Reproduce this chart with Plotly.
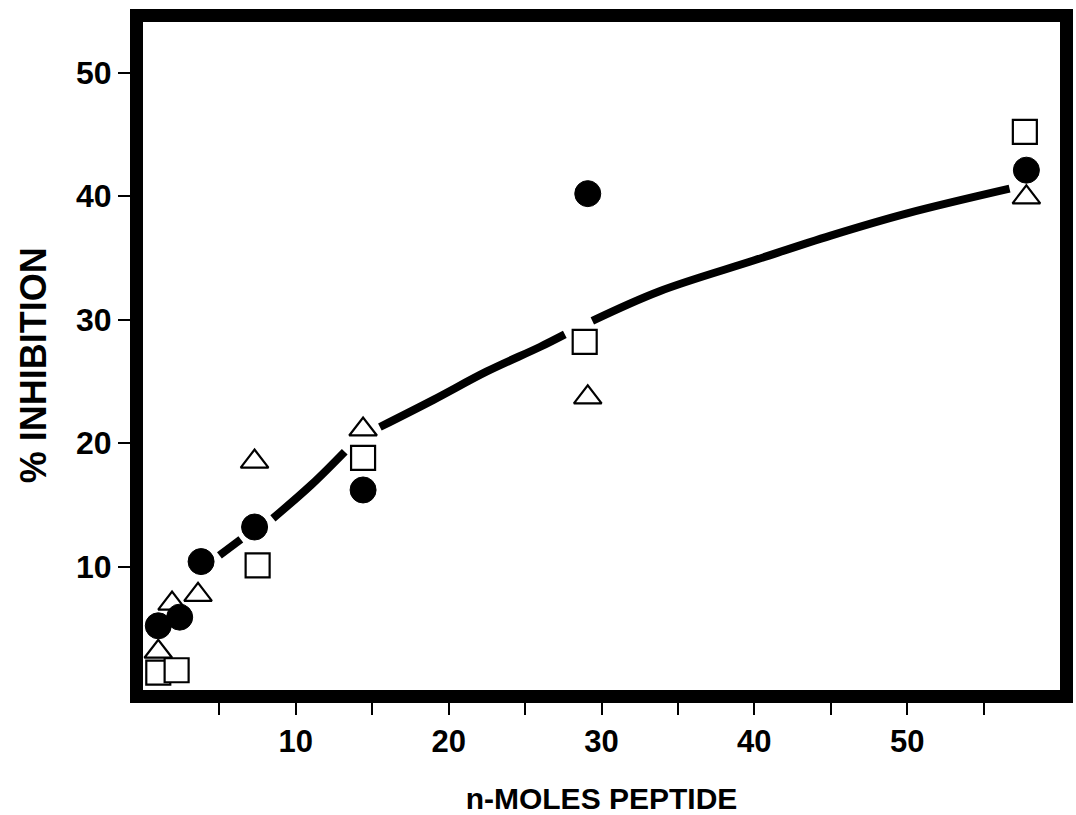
import plotly.graph_objects as go

# ---- data ----
circle_x = [1.0, 2.4, 3.8, 7.3, 14.4, 29.1, 57.8]
circle_y = [5.2, 5.9, 10.4, 13.2, 16.2, 40.2, 42.1]

square_x = [1.0, 2.2, 7.5, 14.4, 28.9, 57.7]
square_y = [1.4, 1.6, 10.1, 18.8, 28.2, 45.2]

triangle_x = [1.0, 1.9, 3.6, 7.3, 14.4, 29.1, 57.8]
triangle_y = [3.1, 7.0, 7.7, 18.5, 21.1, 23.7, 39.9]

# fitted curve as drawn (broken where it meets the markers)
curve_x = [5.0, 6.4, None, 8.5, 11.0, 13.2, None,
           15.5, 19.0, 22.5, 26.0, 27.6, None,
           29.4, 33.8, 40.0, 45.0, 50.0, 56.7]
curve_y = [10.9, 12.2, None, 13.9, 16.6, 19.3, None,
           21.3, 23.5, 25.8, 27.8, 28.8, None,
           29.9, 32.3, 34.8, 36.8, 38.6, 40.6]

x_tickvals = [5, 10, 15, 20, 25, 30, 35, 40, 45, 50, 55]
x_ticktext = ["", "10", "", "20", "", "30", "", "40", "", "50", ""]
y_tickvals = [10, 20, 30, 40, 50]
y_ticktext = ["10", "20", "30", "40", "50"]

x_title = "n-MOLES PEPTIDE"
y_title = "% INHIBITION"

FONT = "Liberation Sans, Arial, Helvetica, sans-serif"

fig = go.Figure()

fig.add_trace(go.Scatter(
    x=curve_x, y=curve_y, mode="lines",
    line=dict(color="black", width=8, shape="spline"),
    connectgaps=False, hoverinfo="skip"))

fig.add_trace(go.Scatter(
    x=square_x, y=square_y, mode="markers",
    marker=dict(symbol="square", size=24, color="white",
                line=dict(color="black", width=2.2))))

fig.add_trace(go.Scatter(
    x=triangle_x, y=triangle_y, mode="markers",
    marker=dict(symbol="triangle-up", size=24, color="white",
                line=dict(color="black", width=2.2))))

fig.add_trace(go.Scatter(
    x=circle_x, y=circle_y, mode="markers",
    marker=dict(symbol="circle", size=26, color="black",
                line=dict(color="black", width=1))))

fig.update_layout(
    width=1076, height=815,
    margin=dict(l=143, r=16, t=22, b=125),
    plot_bgcolor="white", paper_bgcolor="white",
    showlegend=False,
    font=dict(family=FONT, color="black"),
)

fig.update_xaxes(
    range=[0, 60], showgrid=False, zeroline=False, automargin=False,
    showline=True, linewidth=13, linecolor="black", mirror=True,
    ticks="outside", ticklen=12, tickwidth=2, tickcolor="black",
    tickvals=x_tickvals, ticktext=x_ticktext,
    tickfont=dict(family=FONT, size=31, color="black", weight="bold"),
    title=dict(text=x_title, standoff=43,
               font=dict(family=FONT, size=30, color="black", weight="bold")),
)

fig.update_yaxes(
    range=[0, 54.1], showgrid=False, zeroline=False, automargin=False,
    showline=True, linewidth=13, linecolor="black", mirror=True,
    ticks="outside", ticklen=12, tickwidth=2, tickcolor="black",
    tickvals=y_tickvals, ticktext=y_ticktext,
    tickfont=dict(family=FONT, size=32, color="black", weight="bold"),
)

fig.add_annotation(
    text=y_title, textangle=-90, showarrow=False,
    xref="paper", x=0, xanchor="center", xshift=-110,
    yref="y", y=26.3, yanchor="middle",
    font=dict(family=FONT, size=36, color="black", weight="bold"),
)

fig.write_html("out.html")
